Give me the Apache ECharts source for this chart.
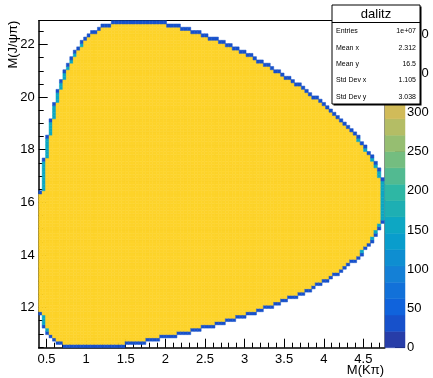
<!DOCTYPE html>
<html>
<head>
<meta charset="utf-8">
<script src="https://cdn.jsdelivr.net/npm/echarts@6/dist/echarts.min.js"></script>
<style>
html, body { margin: 0; padding: 0; background: #fff; }
#chart { width: 433px; height: 378px; }
</style>
</head>
<body>
<div id="chart"></div>
<script>
// binning of the dalitz histogram (M(Kπ) vs M(J/ψπ))
const xMin = 0.401, xMax = 4.7644, nBinsX = 100
const yMin = 10.4747, yMax = 22.9056, nBinsY = 100

// lowest / highest filled M(J/ψπ) in every M(Kπ) column
const colLow = [
    11.73, 11.28, 11.02, 10.86, 10.74, 10.66, 10.60, 10.56, 10.53, 10.51,
    10.49, 10.48, 10.48, 10.475, 10.475, 10.48, 10.48, 10.49, 10.50, 10.51,
    10.52, 10.54, 10.56, 10.57, 10.59, 10.61, 10.63, 10.65, 10.67, 10.70,
    10.72, 10.75, 10.77, 10.80, 10.82, 10.85, 10.88, 10.91, 10.94, 10.97,
    11.00, 11.03, 11.06, 11.09, 11.13, 11.16, 11.19, 11.23, 11.26, 11.30,
    11.34, 11.37, 11.41, 11.45, 11.49, 11.53, 11.57, 11.61, 11.65, 11.70,
    11.74, 11.79, 11.83, 11.88, 11.93, 11.97, 12.02, 12.07, 12.13, 12.18,
    12.23, 12.29, 12.34, 12.40, 12.46, 12.52, 12.58, 12.65, 12.71, 12.78,
    12.85, 12.92, 13.00, 13.07, 13.15, 13.24, 13.32, 13.41, 13.51, 13.61,
    13.71, 13.82, 13.94, 14.07, 14.21, 14.36, 14.53, 14.73, 14.96, 15.27
]
const colHigh = [
    16.34, 17.57, 18.47, 19.17, 19.74, 20.22, 20.62, 20.95, 21.24, 21.49,
    21.70, 21.89, 22.05, 22.19, 22.31, 22.42, 22.51, 22.59, 22.66, 22.71,
    22.76, 22.80, 22.83, 22.86, 22.88, 22.89, 22.90, 22.905, 22.905, 22.905,
    22.90, 22.89, 22.88, 22.86, 22.85, 22.82, 22.80, 22.77, 22.74, 22.71,
    22.68, 22.64, 22.60, 22.56, 22.52, 22.47, 22.43, 22.38, 22.33, 22.28,
    22.22, 22.17, 22.11, 22.05, 22.00, 21.94, 21.87, 21.81, 21.75, 21.68,
    21.61, 21.54, 21.47, 21.40, 21.33, 21.25, 21.18, 21.10, 21.02, 20.94,
    20.86, 20.77, 20.69, 20.60, 20.51, 20.42, 20.33, 20.23, 20.14, 20.04,
    19.94, 19.83, 19.72, 19.62, 19.50, 19.39, 19.27, 19.14, 19.01, 18.88,
    18.74, 18.60, 18.44, 18.28, 18.11, 17.92, 17.72, 17.49, 17.22, 16.87
]
// typical bin contents: inside the phase space, outermost bin of a column,
// and a bin that is only partly inside on the side
const bulkCount = 365
const edgeCount = 35
const sideCount = 160

// palette axis
const zMax = 417
const nLevels = 20

const xTickLabels = [0.5, 1, 1.5, 2, 2.5, 3, 3.5, 4, 4.5]
const xMinorTicks = [0.6, 0.7, 0.8, 0.9, 1.1, 1.2, 1.3, 1.4, 1.6, 1.7, 1.8, 1.9,
    2.1, 2.2, 2.3, 2.4, 2.6, 2.7, 2.8, 2.9, 3.1, 3.2, 3.3, 3.4, 3.6, 3.7, 3.8, 3.9,
    4.1, 4.2, 4.3, 4.4, 4.6, 4.7]
const yTickLabels = [12, 14, 16, 18, 20, 22]
const yMinorTicks = [10.5, 11, 11.5, 12.5, 13, 13.5, 14.5, 15, 15.5, 16.5, 17, 17.5,
    18.5, 19, 19.5, 20.5, 21, 21.5, 22.5]
const zTickLabels = [0, 50, 100, 150, 200, 250, 300, 350, 400]

const statNames = ['Entries', 'Mean x', 'Mean y', 'Std Dev x', 'Std Dev y']
const statValues = ['1e+07', '2.312', '16.5', '1.105', '3.038']

const FONT = 'Liberation Sans, Arial, Helvetica, sans-serif'

// ROOT kBird palette
const birdStops = [0.0, 0.125, 0.25, 0.375, 0.5, 0.625, 0.75, 0.875, 1.0]
const birdR = [0.2082, 0.0592, 0.0780, 0.0232, 0.1802, 0.5301, 0.8186, 0.9956, 0.9764]
const birdG = [0.1664, 0.3599, 0.5041, 0.6419, 0.7178, 0.7492, 0.7328, 0.7862, 0.9832]
const birdB = [0.5293, 0.8684, 0.8385, 0.7914, 0.6425, 0.4662, 0.3499, 0.1968, 0.0539]

function bird (t) {
    let k = 0
    while (k < birdStops.length - 2 && t > birdStops[k + 1]) k++
    const f = (t - birdStops[k]) / (birdStops[k + 1] - birdStops[k])
    const c = arr => Math.round(255 * (arr[k] + f * (arr[k + 1] - arr[k])))
    return 'rgb(' + c(birdR) + ',' + c(birdG) + ',' + c(birdB) + ')'
}

// contour colouring like TH2 "colz": one palette colour per level
function levelColor (z) {
    const step = zMax / nLevels
    const k = Math.max(0, Math.min(nLevels - 1, Math.floor(z / step)))
    const idx = Math.floor((k + 0.99) * 255 / nLevels)
    return bird(Math.min(idx, 254) / 254)
}

// build the bins
const dx = (xMax - xMin) / nBinsX
const dy = (yMax - yMin) / nBinsY
const binOf = y => Math.min(nBinsY - 1, Math.max(0, Math.floor((y - yMin) / dy)))
const lowBin = colLow.map(binOf)
const highBin = colHigh.map(binOf)

const cells = []
for (let i = 0; i < nBinsX; i++) {
    for (let j = lowBin[i]; j <= highBin[i]; j++) {
        const has = k => (k < 0 ? true : k >= nBinsX ? false : (j >= lowBin[k] && j <= highBin[k]))
        let z = bulkCount
        if (j === lowBin[i] || j === highBin[i]) z = edgeCount
        else if (!has(i - 1) || !has(i + 1)) z = sideCount
        cells.push([xMin + i * dx, yMin + j * dy, z, xMin + (i + 1) * dx, yMin + (j + 1) * dy])
    }
}

// palette boxes
const paletteBoxes = []
for (let k = 0; k < nLevels; k++) {
    const lo = k * zMax / nLevels, hi = (k + 1) * zMax / nLevels
    paletteBoxes.push([0, lo, (lo + hi) / 2, 1, hi])
}

function renderCell (params, api) {
    const p0 = api.coord([api.value(0), api.value(4)])
    const p1 = api.coord([api.value(3), api.value(1)])
    const c = levelColor(api.value(2))
    return {
        type: 'rect',
        shape: { x: p0[0], y: p0[1], width: p1[0] - p0[0], height: p1[1] - p0[1] },
        style: { fill: c, stroke: c, lineWidth: 0.5 }
    }
}

const labelStyle = { color: '#000', fontSize: 13, fontFamily: FONT }
const blackLine = { show: true, onZero: false, lineStyle: { color: '#000', width: 1.5 } }
const noLine = { show: false, onZero: false }

let myChart = echarts.init(document.getElementById('chart'))
myChart.setOption({
    animation: false,
    grid: [
        { left: 38.7, top: 20.7, width: 345.6, height: 327, containLabel: false, outerBoundsMode: 'none' },
        { left: 385, top: 20.7, width: 20, height: 327, containLabel: false, outerBoundsMode: 'none' }
    ],
    xAxis: [
        {
            gridIndex: 0, type: 'value', min: xMin, max: xMax, position: 'bottom',
            axisLine: blackLine,
            axisTick: { inside: true, length: 9, customValues: xTickLabels, lineStyle: { color: '#000' } },
            axisLabel: Object.assign({ customValues: xTickLabels, margin: 5 }, labelStyle),
            splitLine: { show: false }
        },
        {
            gridIndex: 0, type: 'value', min: xMin, max: xMax, position: 'bottom',
            axisLine: noLine,
            axisTick: { inside: true, length: 5, customValues: xMinorTicks, lineStyle: { color: '#000' } },
            axisLabel: { show: false },
            splitLine: { show: false }
        },
        {
            gridIndex: 0, type: 'value', min: xMin, max: xMax, position: 'top',
            axisLine: { show: true, onZero: false, lineStyle: { color: '#000', width: 1 } },
            axisTick: { show: false }, axisLabel: { show: false }, splitLine: { show: false }
        },
        {
            gridIndex: 1, type: 'value', min: 0, max: 1, show: false
        }
    ],
    yAxis: [
        {
            gridIndex: 0, type: 'value', min: yMin, max: yMax, position: 'left',
            axisLine: blackLine,
            axisTick: { inside: true, length: 9, customValues: yTickLabels, lineStyle: { color: '#000' } },
            axisLabel: Object.assign({ customValues: yTickLabels, margin: 4 }, labelStyle),
            splitLine: { show: false }
        },
        {
            gridIndex: 0, type: 'value', min: yMin, max: yMax, position: 'left',
            axisLine: noLine,
            axisTick: { inside: true, length: 5, customValues: yMinorTicks, lineStyle: { color: '#000' } },
            axisLabel: { show: false },
            splitLine: { show: false }
        },
        {
            gridIndex: 0, type: 'value', min: yMin, max: yMax, position: 'right',
            axisLine: { show: true, onZero: false, lineStyle: { color: '#888', width: 2 } },
            axisTick: { show: false }, axisLabel: { show: false }, splitLine: { show: false }
        },
        {
            gridIndex: 1, type: 'value', min: 0, max: zMax, position: 'right',
            axisLine: noLine,
            axisTick: { inside: true, length: 10, customValues: zTickLabels, lineStyle: { color: '#000' } },
            axisLabel: Object.assign({ customValues: zTickLabels, margin: 2 }, labelStyle),
            splitLine: { show: false }
        }
    ],
    series: [
        {
            name: 'dalitz',
            type: 'custom',
            xAxisIndex: 0,
            yAxisIndex: 0,
            renderItem: renderCell,
            clip: true,
            data: cells
        },
        {
            name: 'palette',
            type: 'custom',
            xAxisIndex: 3,
            yAxisIndex: 3,
            renderItem: renderCell,
            data: paletteBoxes
        }
    ],
    graphic: [
        {
            type: 'text', x: 13, y: 20.7, rotation: Math.PI / 2, z: 50,
            style: { text: 'M(J/ψπ)', fill: '#000', font: '13px ' + FONT, align: 'right', verticalAlign: 'middle' }
        },
        {
            type: 'text', x: 384, y: 370, z: 50,
            style: { text: 'M(Kπ)', fill: '#000', font: '13px ' + FONT, align: 'right', verticalAlign: 'middle' }
        },
        {
            type: 'group', x: 332, y: 5,
            children: [
                { type: 'rect', z: 100, shape: { x: 1.5, y: 1.5, width: 88, height: 99 }, style: { fill: '#000' } },
                { type: 'rect', z: 101, shape: { x: 0, y: 0, width: 88, height: 99 }, style: { fill: '#fff', stroke: '#000', lineWidth: 1 } },
                { type: 'line', z: 102, shape: { x1: 0, y1: 17.5, x2: 88, y2: 17.5 }, style: { stroke: '#000', lineWidth: 1 } },
                { type: 'text', z: 102, style: { text: 'dalitz', x: 44, y: 9, fill: '#000', font: '13px ' + FONT, align: 'center', verticalAlign: 'middle' } }
            ].concat(statNames.map((name, i) => ({
                type: 'text', z: 102,
                style: { text: name, x: 4, y: 26.5 + i * 16.3, fill: '#000', font: '7px ' + FONT, align: 'left', verticalAlign: 'middle' }
            }))).concat(statValues.map((val, i) => ({
                type: 'text', z: 102,
                style: { text: val, x: 84, y: 26.5 + i * 16.3, fill: '#000', font: '7px ' + FONT, align: 'right', verticalAlign: 'middle' }
            })))
        }
    ]
})
window.addEventListener('resize', function () {
    myChart.resize()
})
</script>
</body>
</html>
